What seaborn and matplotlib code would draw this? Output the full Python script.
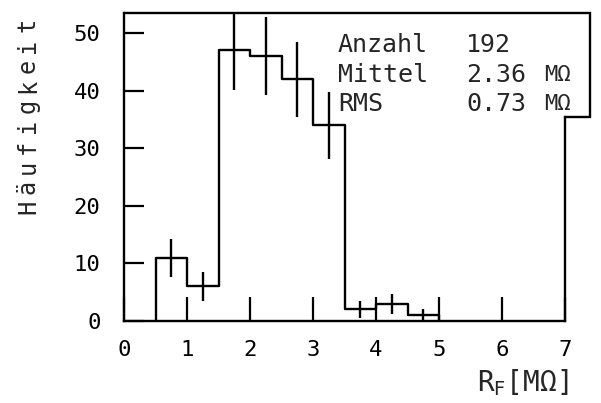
import numpy as np
import pandas as pd
import matplotlib
matplotlib.use('Agg')
import matplotlib.pyplot as plt
import seaborn as sns

# ── DATA ─────────────────────────────────────────────────────
bin_edges = [0.5, 1.0, 1.5, 2.0, 2.5, 3.0, 3.5, 4.0, 4.5, 5.0]
bin_centers = [0.75, 1.25, 1.75, 2.25, 2.75, 3.25, 3.75, 4.25, 4.75]
counts = [11, 6, 47, 46, 42, 34, 2, 3, 1]
x_ticks = [0, 1, 2, 3, 4, 5, 6, 7]
y_ticks = [0, 10, 20, 30, 40, 50]
stats_names = ['Anzahl', 'Mittel', 'RMS']
stats_values = ['192', '2.36', '0.73']
stats_units = ['', 'MΩ', 'MΩ']
y_label = 'Häufigkeit'

df = pd.DataFrame({'R': bin_centers, 'n': counts})

# ── STYLE ────────────────────────────────────────────────────
sns.set_theme(style="white")
plt.rcParams['font.family'] = ['DejaVu Sans Mono', 'DejaVu Sans']
plt.rcParams['mathtext.fontset'] = 'dejavusans'

W, H = 601, 403
fig = plt.figure(figsize=(W / 100, H / 100), dpi=100)
ax = fig.add_axes([124 / W, 1 - 321 / H, 441 / W, 308 / H])

lw = 1.7
sns.histplot(data=df, x='R', weights='n', bins=bin_edges, element='step',
             fill=False, color='black', linewidth=lw, ax=ax)
# close the outline down to the baseline at both ends
ax.vlines([bin_edges[0], bin_edges[-1]], 0, [counts[0], counts[-1]],
          color='black', lw=lw)
ax.errorbar(bin_centers, counts, yerr=np.sqrt(counts), fmt='none',
            ecolor='black', elinewidth=lw, capsize=0)

ax.set_xlim(0, 7)
ax.set_ylim(0, 53.5)
ax.set_xticks(x_ticks)
ax.set_yticks(y_ticks)
ax.set_xlabel('')
ax.set_ylabel('')
ax.tick_params(axis='x', direction='in', length=17, width=1.6, pad=14,
               labelsize=16, colors='black', bottom=True)
ax.tick_params(axis='y', direction='in', length=14.5, width=1.6, pad=17,
               labelsize=16, colors='black', left=True)

for side in ['left', 'bottom', 'top', 'right']:
    ax.spines[side].set_color('black')
    ax.spines[side].set_linewidth(lw)
ax.spines['right'].set_bounds(0, 35.4)
ax.spines['top'].set_visible(False)

# stats box: frame bulges out to the right around the text
box_x = [0, 7.39, 7.39, 7.0]
box_y = [53.5, 53.5, 35.4, 35.4]
ax.plot(box_x, box_y, color='black', lw=lw, clip_on=False,
        solid_joinstyle='miter')

row_px = [45, 75, 104]
for name, val, unit, yp in zip(stats_names, stats_values, stats_units, row_px):
    fig.text(338 / W, 1 - yp / H, name, fontsize=18, va='center', ha='left')
    fig.text(466 / W, 1 - yp / H, val, fontsize=18, va='center', ha='left')
    if unit:
        fig.text(544 / W, 1 - yp / H, unit, fontsize=16, va='center', ha='left')

fig.text(568 / W, 1 - 383 / H, r'R$_\mathrm{F}$[MΩ]', fontsize=20,
         ha='right', va='center')

# letter-spaced vertical axis title
for i, ch in enumerate(y_label):
    fig.text(35 / W, 1 - (207 - 20.2 * i) / H, ch, fontsize=17, rotation=90,
             rotation_mode='anchor', ha='center', va='baseline')

plt.savefig('out.png', dpi=100)
plt.close()
